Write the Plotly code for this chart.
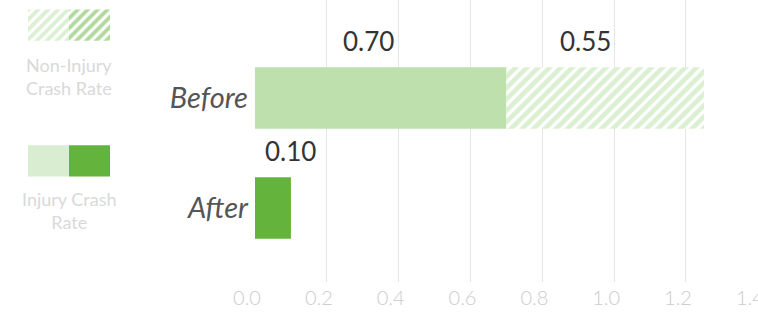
import plotly.graph_objects as go

# Crash rates per period
periods = ["Before", "After"]
injury_rate = [0.70, 0.10]          # solid segment
non_injury_rate = [0.55, None]      # hatched segment stacked on the solid one
x_ticks = [0.0, 0.2, 0.4, 0.6, 0.8, 1.0, 1.2, 1.4]
legend_labels = ["Non-Injury<br>Crash Rate", "Injury Crash<br>Rate"]

LIGHT = "#bde0ad"
DARK = "#63b33c"
HATCH = "#b8e0a6"

ypos = {"Before": 1, "After": 0}
solid_colors = [LIGHT, DARK]

fig = go.Figure()

# Solid (injury) segments
fig.add_trace(go.Bar(
    y=[ypos[p] for p in periods], x=injury_rate, orientation="h",
    marker=dict(color=solid_colors, line=dict(width=0)),
    width=0.56, showlegend=False, hoverinfo="skip",
))

# Hatched (non-injury) segments stacked after the solid ones
hp = [(ypos[p], v, b) for p, v, b in zip(periods, non_injury_rate, injury_rate) if v is not None]
fig.add_trace(go.Bar(
    y=[h[0] for h in hp], x=[h[1] for h in hp], base=[h[2] for h in hp],
    orientation="h", width=0.56,
    marker=dict(color="white", line=dict(width=0),
                pattern=dict(shape="/", fgcolor=HATCH, bgcolor="white",
                             size=8, solidity=0.6, fillmode="overlay")),
    showlegend=False, hoverinfo="skip",
))

# Value labels above each segment
VAL_FONT = dict(family="Lato", size=26, color="#333333")
ann = []
for p, v, shift in zip(periods, injury_rate, [-12, 18]):
    ann.append(dict(x=v / 2, y=ypos[p] + 0.28, text=f"{v:.2f}", showarrow=False,
                    xref="x", yref="y", xanchor="center", yanchor="bottom",
                    xshift=shift, yshift=8, font=VAL_FONT))
for p, v, b in zip(periods, non_injury_rate, injury_rate):
    if v is None:
        continue
    ann.append(dict(x=b + v / 2, y=ypos[p] + 0.28, text=f"{v:.2f}", showarrow=False,
                    xref="x", yref="y", xanchor="center", yanchor="bottom",
                    xshift=-20, yshift=8, font=VAL_FONT))

# Custom key on the left: two-tone swatches (hatched and solid)
fig.add_trace(go.Bar(
    y=[1, 1], x=[1, 1], base=[0, 1], orientation="h", width=0.23,
    xaxis="x2", yaxis="y2",
    marker=dict(color="white", line=dict(width=0),
                pattern=dict(shape="/", fgcolor=[HATCH, DARK], bgcolor="white",
                             size=7, solidity=0.55, fillmode="overlay")),
    showlegend=False, hoverinfo="skip",
))
fig.add_trace(go.Bar(
    y=[0, 0], x=[1, 1], base=[0, 1], orientation="h", width=0.23,
    xaxis="x2", yaxis="y2",
    marker=dict(color=["#d9edd0", DARK], line=dict(width=0)),
    showlegend=False, hoverinfo="skip",
))
for lbl, ry in zip(legend_labels, [0.727, 0.255]):
    ann.append(dict(x=69 / 758, y=ry, xref="paper", yref="paper", text=lbl,
                    showarrow=False, align="center", xanchor="center", yanchor="middle",
                    font=dict(family="Lato", size=18, color="#d9d9d9")))

fig.update_layout(
    width=758, height=328,
    margin=dict(l=0, r=0, t=0, b=46),
    paper_bgcolor="white", plot_bgcolor="white",
    barmode="overlay",
    xaxis=dict(domain=[255 / 758, 1], range=[0, 1.4005], tickvals=x_ticks,
               ticktext=[f"{t:.1f}" for t in x_ticks],
               showgrid=True, gridcolor="#e6e6e6", gridwidth=1,
               zeroline=False, showline=False, ticks="", automargin=False,
               ticklabeloverflow="allow", ticklabelshift=-8,
               tickfont=dict(family="Lato", size=20, color="#cccccc", weight=300),
               ticklabelstandoff=2, fixedrange=True),
    yaxis=dict(range=[-0.673, 1.891], tickvals=[ypos[p] for p in periods],
               ticktext=periods, showgrid=False, zeroline=False, showline=False,
               ticks="", ticklabelstandoff=6, automargin=False,
               tickfont=dict(family="Lato", size=29, color="#555555", style="italic")),
    xaxis2=dict(domain=[28 / 758, 110 / 758], range=[0, 2], anchor="y2",
                visible=False, fixedrange=True, automargin=False),
    yaxis2=dict(domain=[0, 1], range=[-0.890, 1.184], anchor="x2",
                visible=False, fixedrange=True, automargin=False),
    annotations=ann,
)

fig.write_html("out.html")
